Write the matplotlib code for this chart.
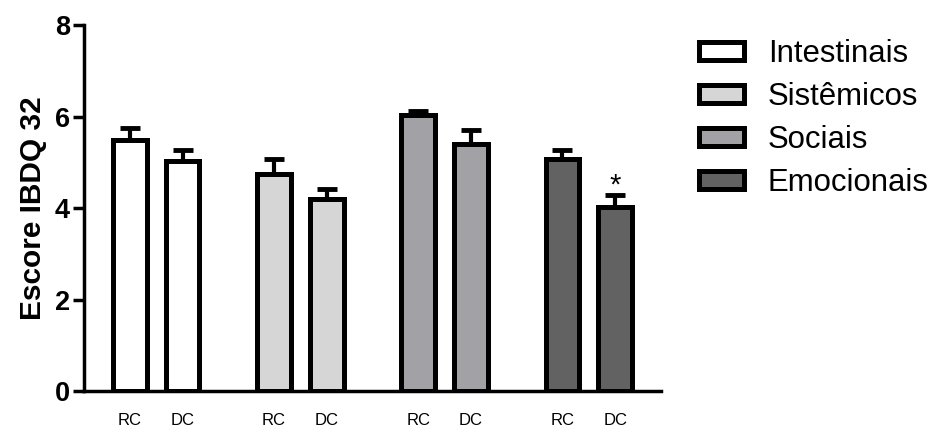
import matplotlib
matplotlib.use("Agg")
import matplotlib.pyplot as plt
from matplotlib.patches import Patch
import numpy as np

plt.rcParams['font.family'] = ['Liberation Sans', 'DejaVu Sans']

domains = ["Intestinais", "Sistêmicos", "Sociais", "Emocionais"]
groups = ["RC", "DC"]
rc_means = [5.48, 4.75, 6.04, 5.08]
dc_means = [5.02, 4.19, 5.41, 4.03]
rc_err = [0.27, 0.32, 0.08, 0.19]
dc_err = [0.25, 0.23, 0.29, 0.25]
colors = ["#ffffff", "#d6d6d6", "#a2a1a6", "#626262"]
significant_dc = [False, False, False, True]

fig = plt.figure(figsize=(9.31, 4.30), dpi=100)
ax = fig.add_axes([0.0902, 0.0907, 0.6198, 0.851])

x = np.arange(len(domains))
off = 0.183
w = 0.235
for i in range(len(domains)):
    for j, (m, e) in enumerate([(rc_means[i], rc_err[i]), (dc_means[i], dc_err[i])]):
        xp = x[i] + (-off if j == 0 else off)
        ax.errorbar(xp, m, yerr=[[0], [e]], fmt='none', ecolor='black',
                    elinewidth=3, capsize=7, capthick=3.5, zorder=2)
        ax.bar(xp, m, width=w, color=colors[i], edgecolor='black',
               linewidth=3.6, zorder=3)
    if significant_dc[i]:
        ax.text(x[i] + off, dc_means[i] + dc_err[i] + 0.22, "*", ha='center',
                va='center', fontsize=21)

ticks = np.concatenate([[xi - off, xi + off] for xi in x])
ax.set_xticks(ticks)
ax.set_xticklabels(groups * len(domains), fontsize=12)
ax.tick_params(axis='x', length=0, pad=16)
ax.set_xlim(-0.5, 3.5)
ax.set_ylim(0, 8)
ax.set_yticks([0, 2, 4, 6, 8])
ax.tick_params(axis='y', length=8, width=2.5, labelsize=19.5, pad=2)
for lab in ax.get_yticklabels():
    lab.set_fontweight('bold')
ax.set_ylabel("Escore IBDQ 32", fontsize=21.5, fontweight='bold', labelpad=6)
for s in ['top', 'right']:
    ax.spines[s].set_visible(False)
for s in ['left', 'bottom']:
    ax.spines[s].set_linewidth(2.5)

handles = [Patch(facecolor=c, edgecolor='black', linewidth=3.6) for c in colors]
fig.legend(handles, domains, loc='upper left', bbox_to_anchor=(0.751, 0.91),
           frameon=False, fontsize=22.4, handlelength=1.45, handleheight=0.5,
           handletextpad=0.75, labelspacing=0.42, borderaxespad=0, borderpad=0)

fig.savefig("out.png", dpi=100)
